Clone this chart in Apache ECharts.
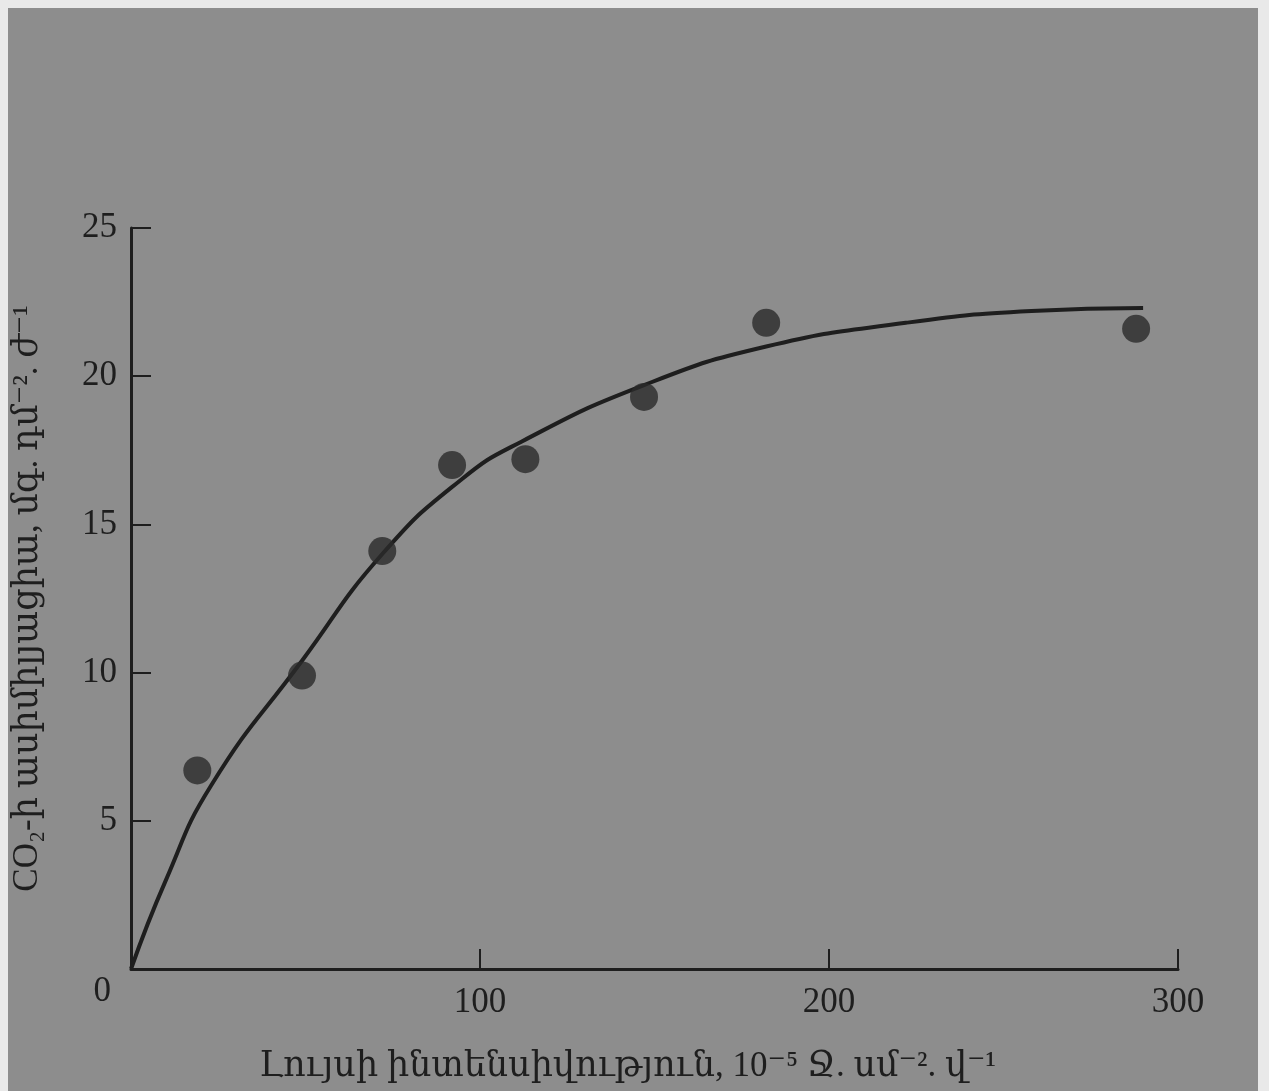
<!DOCTYPE html>
<html>
<head>
<meta charset="utf-8">
<script src="https://cdn.jsdelivr.net/npm/echarts@6/dist/echarts.min.js"></script>
<style>
  html, body { margin: 0; padding: 0; background: #e9e9e9; }
  #main { position: absolute; left: 8px; top: 8px; width: 1250px; height: 1083px; }
</style>
</head>
<body>
<div id="main"></div>
<script>
// measured points: light intensity vs CO2 assimilation
const lightX = [19, 49, 72, 92, 113, 147, 182, 288];
const assimY = [6.7, 9.9, 14.1, 17.0, 17.2, 19.3, 21.8, 21.6];

// fitted curve
const curveX = [0, 10, 23, 49, 72, 94.5, 112, 147, 182, 222, 258, 290];
const curveY = [0, 3.0, 6.2, 10.4, 14.0, 16.5, 17.8, 19.7, 21.0, 21.8, 22.2, 22.3];

const xTicks = [100, 200, 300];
const yTicks = [0, 5, 10, 15, 20, 25];

const xName = "Լույսի ինտենսիվություն, 10⁻⁵ Ջ. սմ⁻². վ⁻¹";
const yName = "CO₂-ի ասիմիլյացիա, մգ. դմ⁻². ժ⁻¹";

const ink = "#1e1e1e";
const font = "'Liberation Serif', 'DejaVu Serif', serif";

const chart = echarts.init(document.getElementById("main"));

//curve and dots as pairs
const curveData = curveX.map((x, i) => [x, curveY[i]]);
const dotData = lightX.map((x, i) => [x, assimY[i]]);

const option = {
  backgroundColor: "#8d8d8d",
  animation: false,
  grid: { left: 123, top: 220, right: 80, bottom: 122, containLabel: false, outerBoundsMode: "none" },
  xAxis: {
    type: "value",
    min: 0,
    max: 300,
    interval: 100,
    name: xName,
    nameLocation: "middle",
    nameGap: 80,
    nameTextStyle: { color: ink, fontSize: 35, fontFamily: font, padding: [0, 54, 0, 0] },
    axisLine: { lineStyle: { color: ink, width: 3 } },
    axisTick: { inside: true, length: 20, lineStyle: { color: ink, width: 2 } },
    axisLabel: {
      color: ink, fontSize: 35, fontFamily: font, margin: 16,
      formatter: (v) => (xTicks.includes(v) ? String(v) : "")
    },
    splitLine: { show: false }
  },
  yAxis: {
    type: "value",
    min: 0,
    max: 25,
    interval: 5,
    name: yName,
    nameLocation: "middle",
    nameGap: 86,
    nameTextStyle: { color: ink, fontSize: 35, fontFamily: font },
    axisLine: { lineStyle: { color: ink, width: 3 } },
    axisTick: { inside: true, length: 20, lineStyle: { color: ink, width: 2 } },
    axisLabel: {
      color: ink, fontSize: 35, fontFamily: font, margin: 14,
      formatter: (v) => {
        if (!yTicks.includes(v)) return "";
        // the shared origin label sits lower, at the corner
        return v === 0 ? "{o|0}" : String(v);
      },
      rich: {
        o: { color: ink, fontSize: 35, fontFamily: font, padding: [46, 6, 0, 0] }
      }
    },
    splitLine: { show: false }
  },
  series: [
    {
      type: "line",
      data: curveData,
      smooth: 0.5,
      showSymbol: false,
      lineStyle: { color: ink, width: 4 },
      z: 2
    },
    {
      type: "scatter",
      data: dotData,
      symbolSize: 28,
      itemStyle: { color: "#2b2b2b" },
      z: 3
    }
  ]
};

option && chart.setOption(option);
</script>
</body>
</html>
